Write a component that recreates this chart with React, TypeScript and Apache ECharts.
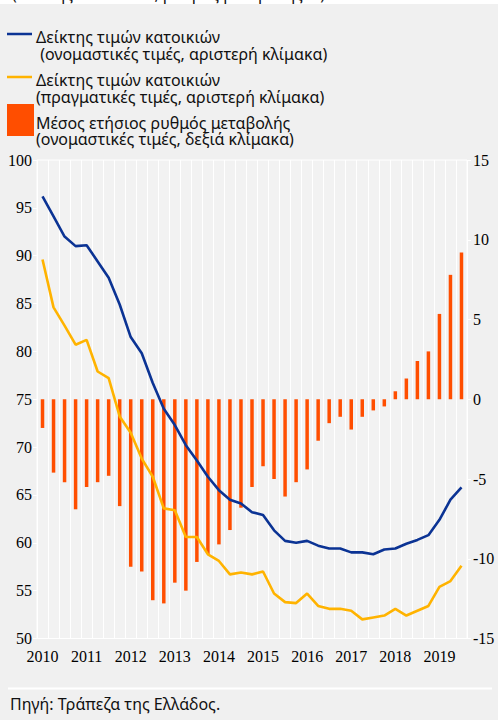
import React, { useEffect, useRef } from "react";
import * as echarts from "echarts";

const quarters: string[] = [
  "2010 Q1", "2010 Q2", "2010 Q3", "2010 Q4",
  "2011 Q1", "2011 Q2", "2011 Q3", "2011 Q4",
  "2012 Q1", "2012 Q2", "2012 Q3", "2012 Q4",
  "2013 Q1", "2013 Q2", "2013 Q3", "2013 Q4",
  "2014 Q1", "2014 Q2", "2014 Q3", "2014 Q4",
  "2015 Q1", "2015 Q2", "2015 Q3", "2015 Q4",
  "2016 Q1", "2016 Q2", "2016 Q3", "2016 Q4",
  "2017 Q1", "2017 Q2", "2017 Q3", "2017 Q4",
  "2018 Q1", "2018 Q2", "2018 Q3", "2018 Q4",
  "2019 Q1", "2019 Q2", "2019 Q3",
];

const nominalIndex: number[] = [
  96.2, 94.1, 92.0, 91.0, 91.1, 89.4, 87.7, 84.9,
  81.5, 79.8, 76.7, 74.0, 72.3, 70.2, 68.6, 66.9,
  65.5, 64.5, 64.1, 63.2, 62.9, 61.3, 60.2, 60.0,
  60.2, 59.7, 59.4, 59.4, 59.0, 59.0, 58.8, 59.3,
  59.4, 59.9, 60.3, 60.8, 62.4, 64.5, 65.8,
];

const realIndex: number[] = [
  89.6, 84.6, 82.7, 80.7, 81.2, 77.9, 77.2, 73.2,
  71.5, 68.8, 66.9, 63.6, 63.4, 60.6, 60.6, 58.8,
  58.1, 56.7, 56.9, 56.7, 57.0, 54.7, 53.8, 53.7,
  54.7, 53.4, 53.1, 53.1, 52.9, 52.0, 52.2, 52.4,
  53.1, 52.4, 52.9, 53.4, 55.4, 56.0, 57.6,
];

const annualChange: number[] = [
  -1.8, -4.6, -5.2, -6.9, -5.5, -5.2, -4.8, -6.7,
  -10.5, -10.8, -12.6, -12.8, -11.5, -12.0, -10.2, -9.7,
  -9.1, -8.2, -6.8, -5.5, -4.2, -5.0, -6.1, -5.2,
  -4.4, -2.6, -1.5, -1.1, -1.9, -1.1, -0.7, -0.45,
  0.5, 1.3, 2.4, 3.0, 5.35, 7.8, 9.2,
];

const legendLabels: string[] = [
  "Δείκτης τιμών κατοικιών\n (ονομαστικές τιμές, αριστερή κλίμακα)",
  "Δείκτης τιμών κατοικιών\n(πραγματικές τιμές, αριστερή κλίμακα)",
  "Μέσος ετήσιος ρυθμός μεταβολής\n(ονομαστικές τιμές, δεξιά κλίμακα)",
];

const sourceNote = "Πηγή: Τράπεζα της Ελλάδος.";
const topNote = "(δείκτης: 2007=100, ρυθμός μεταβολής %)";

const BLUE = "#0b3394";
const YELLOW = "#ffb300";
const ORANGE = "#ff4e00";
const FONT = "Liberation Serif";
const GREEK_FONT = '"Noto Sans", "Liberation Serif", sans-serif';

export default function App() {
  const ref = useRef<HTMLDivElement>(null);

  useEffect(() => {
    if (!ref.current) return;
    const chart = echarts.init(ref.current, undefined, { renderer: "svg" });
    const titleText = (text: string, left: number, top: number, lineHeight: number) => ({
      text,
      left,
      top,
      padding: 0,
      itemGap: 0,
      textStyle: {
        fontFamily: GREEK_FONT,
        fontSize: 16,
        fontWeight: "normal",
        color: "#111",
        lineHeight,
      },
    });
    chart.setOption({
      animation: false,
      backgroundColor: "#f0f0f0",
      textStyle: { fontFamily: FONT },
      title: [
        titleText(topNote, 12, -15, 17),
        titleText(legendLabels[0], 36, 28.5, 17),
        titleText(legendLabels[1], 36, 71.5, 17),
        titleText(legendLabels[2], 36, 115, 16),
        titleText(sourceNote, 10, 695, 17),
      ],
      grid: {
        left: 37,
        right: 31,
        top: 160,
        bottom: 81.5,
        show: true,
        backgroundColor: "#f2f2f2",
        borderColor: "#ffffff",
        borderWidth: 1,
      },
      xAxis: {
        type: "category",
        data: quarters,
        boundaryGap: true,
        axisLine: { show: false },
        axisTick: { show: true, interval: 0, length: 3, lineStyle: { color: "#ffffff" } },
        splitLine: { show: true, interval: 0, lineStyle: { color: "#ffffff", width: 1 } },
        axisLabel: {
          interval: (i: number) => i % 4 === 0,
          formatter: (v: string) => v.slice(0, 4),
          color: "#000",
          fontFamily: FONT,
          fontSize: 16,
          margin: 10,
        },
      },
      yAxis: [
        {
          type: "value",
          min: 50,
          max: 100,
          interval: 5,
          position: "left",
          axisLine: { show: false },
          axisTick: { show: true, length: 4, lineStyle: { color: "#ffffff" } },
          splitLine: { show: false },
          axisLabel: {
            color: "#000",
            fontFamily: FONT,
            fontSize: 16,
            margin: 5,
            padding: [5, 0, 0, 0],
          },
        },
        {
          type: "value",
          min: -15,
          max: 15,
          interval: 5,
          position: "right",
          axisLine: { show: false },
          axisTick: { show: true, length: 4, lineStyle: { color: "#ffffff" } },
          splitLine: { show: false },
          axisLabel: {
            color: "#000",
            fontFamily: FONT,
            fontSize: 16,
            margin: 6,
            padding: [5, 0, 0, 0],
          },
        },
      ],
      series: [
        {
          name: "Μέσος ετήσιος ρυθμός μεταβολής",
          type: "bar",
          yAxisIndex: 1,
          data: annualChange,
          barWidth: 3.5,
          itemStyle: { color: ORANGE },
        },
        {
          name: "Δείκτης τιμών κατοικιών (πραγματικές)",
          type: "line",
          yAxisIndex: 0,
          data: realIndex,
          symbol: "none",
          lineStyle: { color: YELLOW, width: 2.6 },
        },
        {
          name: "Δείκτης τιμών κατοικιών (ονομαστικές)",
          type: "line",
          yAxisIndex: 0,
          data: nominalIndex,
          symbol: "none",
          lineStyle: { color: BLUE, width: 2.6 },
        },
      ],
      graphic: [
        { type: "rect", shape: { x: 0, y: 0, width: 498, height: 4 }, style: { fill: "#ffffff" }, z: -1 },
        { type: "line", shape: { x1: 7, y1: 34, x2: 32, y2: 34 }, style: { stroke: BLUE, lineWidth: 2.5 } },
        { type: "line", shape: { x1: 7, y1: 77, x2: 32, y2: 77 }, style: { stroke: YELLOW, lineWidth: 2.5 } },
        { type: "rect", shape: { x: 7, y: 104, width: 27, height: 32 }, style: { fill: ORANGE } },
        { type: "line", shape: { x1: 8, y1: 688.5, x2: 492, y2: 688.5 }, style: { stroke: "#ffffff", lineWidth: 2 } },
      ],
    });
    return () => chart.dispose();
  }, []);

  return (
    <div
      ref={ref}
      style={{ position: "absolute", left: 0, top: 0, width: 498, height: 720 }}
    />
  );
}
